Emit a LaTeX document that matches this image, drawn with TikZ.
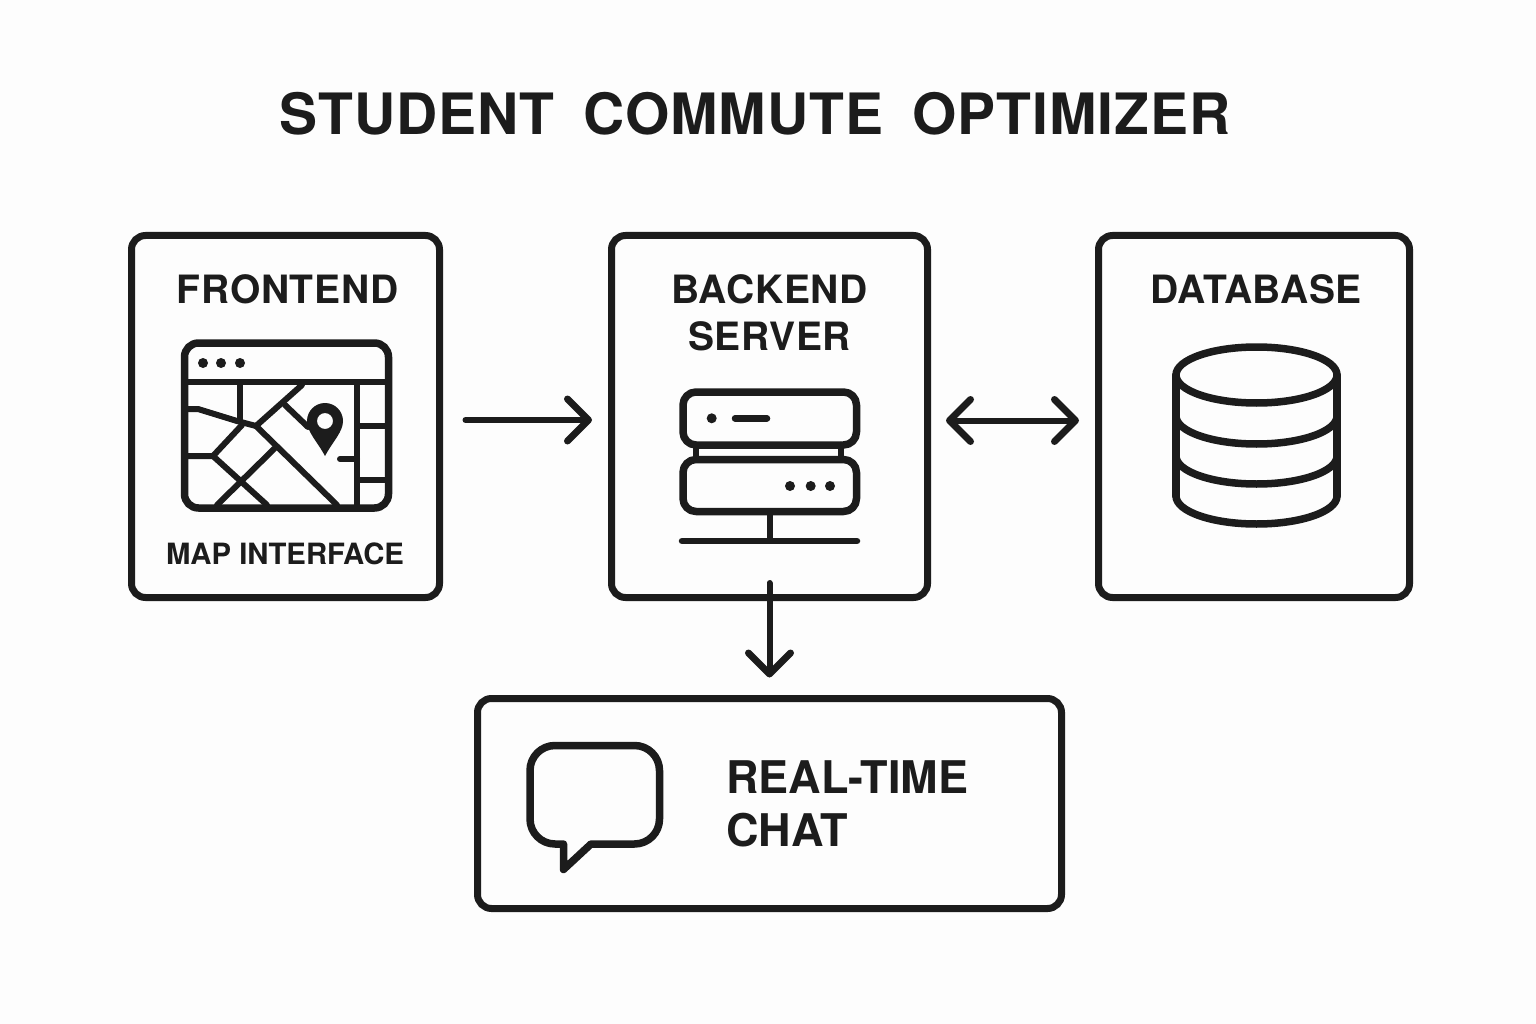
\documentclass[tikz,border=0pt]{standalone}
\usepackage{fontspec}
\setmainfont{TeX Gyre Heros}
\usetikzlibrary{arrows.meta}
\definecolor{ink}{HTML}{1C1C1C}
\definecolor{paper}{HTML}{FDFDFD}
\tikzset{
  panel/.style={draw=ink,line width=7pt,rounded corners=14pt,inner sep=0pt,outer sep=0pt,anchor=center},
  icon/.style={draw=ink,line width=7.5pt,line join=round,line cap=round},
  road/.style={draw=ink,line width=6pt,line join=round,line cap=round},
  label/.style={text=ink,inner sep=0pt,align=center},
  conn/.style={draw=ink,line width=6pt,line cap=round,line join=round},
  tipb/.tip={Straight Barb[length=21pt,width=42pt,round,line width=7pt]},
}
\begin{document}
\begin{tikzpicture}[x=1pt,y=-1pt]
\useasboundingbox[fill=paper] (0,0) rectangle (1536,1024);
\node[label,font=\fontsize{57}{60}\selectfont\bfseries\addfontfeatures{LetterSpace=1.7}] (title) at (755,113.5) {STUDENT\hspace{12pt} COMMUTE\hspace{12pt} OPTIMIZER};
\node[panel,minimum width=308pt,minimum height=362pt] (front) at (285.5,416.5) {};
\node[panel,minimum width=316pt,minimum height=362pt] (back) at (769.5,416.5) {};
\node[panel,minimum width=311pt,minimum height=362pt] (db) at (1254,416.5) {};
\node[panel,minimum width=584pt,minimum height=210pt] (chat) at (769.5,803.5) {};
\node[label,font=\fontsize{39}{44}\selectfont\bfseries\addfontfeatures{LetterSpace=1.8}] (ftext) at (287.5,289) {FRONTEND};
\node[label,font=\fontsize{29.3}{36}\selectfont\bfseries] (fsub) at (285,554) {MAP INTERFACE};
\node[label,font=\fontsize{39}{47}\selectfont\bfseries\addfontfeatures{LetterSpace=1.8}] (btext) at (769.5,313) {BACKEND\\SERVER};
\node[label,font=\fontsize{39}{44}\selectfont\bfseries\addfontfeatures{LetterSpace=1.5}] (dtext) at (1256,289) {DATABASE};
\node[label,align=left,anchor=west,font=\fontsize{45}{53}\selectfont\bfseries] (ctext) at (726,804) {REAL-TIME\\CHAT};
% map icon
\draw[road] (240,382)--(240,421);
\draw[road] (187,409)--(198,409)--(237,421)--(256,426);
\draw[road] (302,385)--(256,426)--(337,505);
\draw[road] (242,425)--(213,456)--(187,456);
\draw[road] (213,456)--(267,505);
\draw[road] (275,448)--(217,505);
\draw[road] (285,405)--(308,427);
\draw[road] (357,382)--(357,508);
\draw[road] (357,426)--(388,426);
\draw[road] (357,480)--(388,480);
\draw[road] (340,459)--(357,459);
\draw[icon,rounded corners=14pt] (184.5,343) rectangle (388.5,508);
\draw[icon,line width=6.5pt] (184.5,382)--(388.5,382);
\foreach \x in {203,221,240} \fill[ink] (\x,363) circle (5pt);
\fill[ink,even odd rule] (325,456) .. controls (317,441) and (307,432) .. (307,421) arc (180:0:18pt) .. controls (343,432) and (333,441) .. (325,456) -- cycle (325,421) circle (8pt);
% server icon
\draw[icon,line width=6.5pt] (696,445)--(696,459) (841,445)--(841,459);
\draw[icon,rounded corners=13pt] (683,392) rectangle (856.5,445);
\draw[icon,rounded corners=13pt] (683,459.5) rectangle (856.5,511.5);
\fill[ink] (711.7,418.3) circle (5pt);
\draw[icon,line width=6.5pt] (735,418.3)--(767,418.3);
\foreach \x in {790,810.7,830} \fill[ink] (\x,486) circle (5pt);
\draw[icon,line width=6.5pt,line cap=butt] (770,511)--(770,541);
\draw[icon,line width=6.5pt] (682,541)--(857,541);
% database icon
\draw[icon] (1176,375) -- (1176,496);
\draw[icon] (1337,375) -- (1337,496);
\draw[icon] (1256.5,375) ellipse (80.5pt and 28pt);
\draw[icon] (1176,416) arc (180:360:80.5pt and 28pt);
\draw[icon] (1176,456) arc (180:360:80.5pt and 28pt);
\draw[icon] (1176,496) arc (180:360:80.5pt and 28pt);
% chat icon
\draw[icon] (563.5,844) [rounded corners=25pt] -- (530,844) -- (530,745.5) -- (659.5,745.5) -- (659.5,844) [sharp corners] -- (591,844) -- (563.5,869.5) -- cycle;
% connectors
\draw[conn,-{tipb}] ([xshift=26pt,yshift=-3.5pt]front.east) -- ([xshift=-19.5pt,yshift=-3.5pt]back.west);
\draw[conn,{tipb}-{tipb}] ([xshift=18.5pt,yshift=-4pt]back.east) -- ([xshift=-19.5pt,yshift=-4pt]db.west);
\draw[conn,-{tipb}] ([yshift=14.5pt]back.south) -- ([yshift=21pt]chat.north);
\end{tikzpicture}
\end{document}
